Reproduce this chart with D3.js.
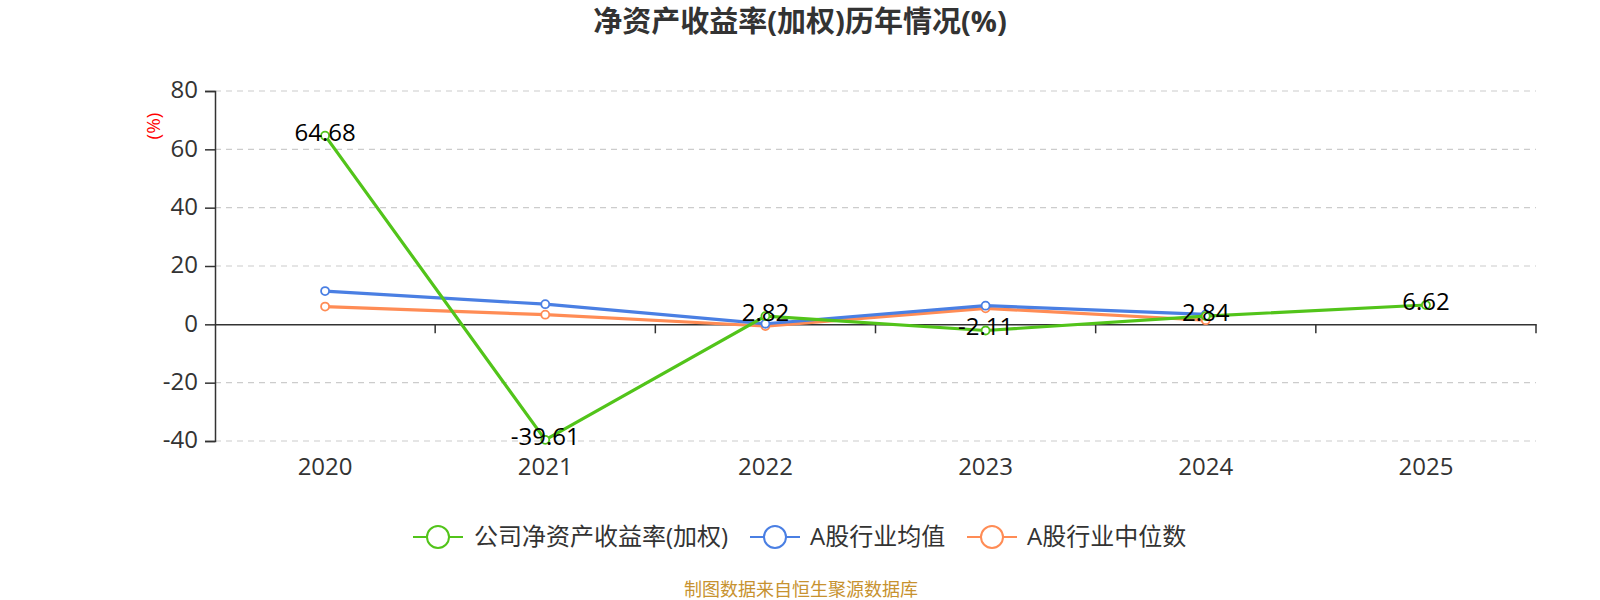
<!DOCTYPE html>
<html><head><meta charset="utf-8">
<script src="https://cdn.jsdelivr.net/npm/d3@7/dist/d3.min.js"></script>
<style>body{margin:0;background:#fff;}svg{display:block;font-family:"Open Sans","Noto Sans CJK SC",sans-serif;}</style>
</head><body>
<svg id="c" width="1600" height="600"></svg>
<script>
const categories = ["2020","2021","2022","2023","2024","2025"];
const companyROE = [64.68, -39.61, 2.82, -2.11, 2.84, 6.62];
const industryAvg = [11.4, 6.9, 0.2, 6.4, 3.4, null];
const industryMedian = [6.1, 3.3, -0.6, 5.5, 1.4, null];
const yTicks = [-40, -20, 0, 20, 40, 60, 80];
const seriesNames = ["公司净资产收益率(加权)", "A股行业均值", "A股行业中位数"];
const colors = ["#52c41a", "#4a7fe3", "#ff8c55"];

const svg = d3.select("#c");
const L = 215, R = 1536, T = 91, B = 441;
const x = d3.scaleBand().domain(categories).range([L, R]);
const y = d3.scaleLinear().domain([-40, 80]).range([B, T]);

// title
svg.append("text").attr("x", 800).attr("y", 32).attr("text-anchor", "middle")
  .attr("font-size", 29).attr("font-weight", "bold").attr("fill", "#333")
  .text("净资产收益率(加权)历年情况(%)");

// grid
svg.append("g").selectAll("line").data(yTicks.filter(d => d !== 0)).join("line")
  .attr("x1", L).attr("x2", R).attr("y1", d => y(d)).attr("y2", d => y(d))
  .attr("stroke", "#ccc").attr("stroke-dasharray", "6,5").attr("stroke-width", 1.2);

// y axis
const ya = svg.append("g").attr("transform", `translate(${L},0)`)
  .call(d3.axisLeft(y).tickValues(yTicks).tickFormat(d => String(d)).tickSize(10).tickPadding(7));
ya.select(".domain").attr("stroke", "#333").attr("stroke-width", 1.5);
ya.selectAll(".tick line").attr("stroke", "#333").attr("stroke-width", 1.5);
ya.selectAll("text").attr("font-size", 24).attr("fill", "#333")
  .attr("font-family", "'Open Sans'").attr("dy", "0.28em");

// x axis at zero
const xa = svg.append("g").attr("transform", `translate(0,${y(0)})`)
  .call(d3.axisBottom(x).tickSize(0).tickFormat(""));
xa.select(".domain").attr("stroke", "#333").attr("stroke-width", 1.5);
const bounds = categories.map(c => x(c) + x.bandwidth());
svg.append("g").selectAll("line").data(bounds).join("line")
  .attr("x1", d => d).attr("x2", d => d).attr("y1", y(0)).attr("y2", y(0) + 9)
  .attr("stroke", "#333").attr("stroke-width", 1.5);
svg.append("g").selectAll("text").data(categories).join("text")
  .attr("x", d => x(d) + x.bandwidth() / 2).attr("y", 475).attr("text-anchor", "middle")
  .attr("font-size", 24).attr("fill", "#333").text(d => d);

// y label
svg.append("text").attr("transform", "translate(160,126) rotate(-90)").attr("text-anchor", "middle")
  .attr("font-size", 19).attr("fill", "red").text("(%)");

const cx = c => x(c) + x.bandwidth() / 2;
const line = d3.line().defined(d => d[1] != null).x(d => cx(d[0])).y(d => y(d[1]));
const allSeries = [companyROE, industryAvg, industryMedian];
const drawOrder = [2, 1, 0];
drawOrder.forEach(i => {
  const data = categories.map((c, j) => [c, allSeries[i][j]]);
  svg.append("path").datum(data).attr("d", line).attr("fill", "none")
    .attr("stroke", colors[i]).attr("stroke-width", 3.2).attr("stroke-linejoin", "round");
  svg.append("g").selectAll("circle").data(data.filter(d => d[1] != null)).join("circle")
    .attr("cx", d => cx(d[0])).attr("cy", d => y(d[1])).attr("r", 4)
    .attr("fill", "#fff").attr("stroke", colors[i]).attr("stroke-width", 1.8);
});

// labels for company
svg.append("g").selectAll("text").data(categories.map((c, j) => [c, companyROE[j]])).join("text")
  .attr("x", d => cx(d[0])).attr("y", d => y(d[1]) + 5).attr("text-anchor", "middle")
  .attr("font-size", 24).attr("fill", "#000").text(d => d[1].toFixed(2));

// legend
const legendX = [413, 750, 967];
const textX = [474, 810, 1027];
seriesNames.forEach((n, i) => {
  const g = svg.append("g");
  g.append("line").attr("x1", legendX[i]).attr("x2", legendX[i] + 50).attr("y1", 537).attr("y2", 537)
    .attr("stroke", colors[i]).attr("stroke-width", 2);
  g.append("circle").attr("cx", legendX[i] + 25).attr("cy", 537).attr("r", 11)
    .attr("fill", "#fff").attr("stroke", colors[i]).attr("stroke-width", 2);
  g.append("text").attr("x", textX[i]).attr("y", 545).attr("font-size", 24).attr("fill", "#333").text(n);
});

svg.append("text").attr("x", 801).attr("y", 596).attr("text-anchor", "middle")
  .attr("font-size", 18).attr("fill", "#c7922f").text("制图数据来自恒生聚源数据库");
</script>
</body></html>
